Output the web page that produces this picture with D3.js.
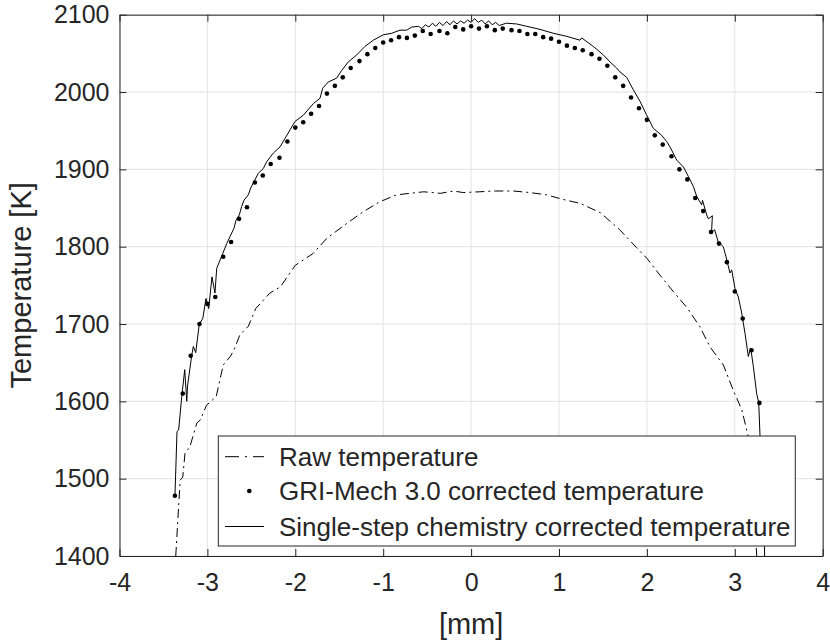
<!DOCTYPE html>
<html><head><meta charset="utf-8">
<script src="https://cdn.jsdelivr.net/npm/d3@7"></script>
<style>body{margin:0;background:#fff}svg{display:block}text{font-family:"Liberation Sans",Arial,sans-serif;fill:#262626}</style>
</head><body><svg id="c" width="830" height="643"></svg>
<script>
const xTicks = [-4,-3,-2,-1,0,1,2,3,4];
const yTicks = [1400,1500,1600,1700,1800,1900,2000,2100];
const legendLabels = ["Raw temperature","GRI-Mech 3.0 corrected temperature","Single-step chemistry corrected temperature"];

const rawX = [-3.36,-3.31,-3.28,-3.255,-3.20,-3.12,-3.08,-3.01,-2.90,-2.82,-2.74,-2.70,-2.63,-2.535,-2.45,-2.29,-2.17,-2.00,-1.80,-1.64,-1.415,-1.23,-1.04,-0.85,-0.54,-0.35,-0.20,-0.09,0.10,0.25,0.48,0.67,0.86,1.05,1.24,1.47,1.69,1.88,2.00,2.15,2.30,2.45,2.60,2.72,2.87,2.98,3.08,3.15,3.21,3.25];
const rawT = [1400,1498,1502,1533,1541,1572,1576,1595,1606,1647,1658,1666,1686,1697,1720,1740,1748,1776,1791,1811,1830,1845,1858,1867,1871,1869,1872,1870,1871,1872,1872,1870,1867,1861,1856,1844,1822,1799,1785,1763,1742,1722,1697,1670,1647,1615,1589,1556,1470,1400];

const griX = [-3.37,-3.28,-3.19,-3.09,-3.00,-2.91,-2.82,-2.73,-2.64,-2.55,-2.46,-2.37,-2.28,-2.18,-2.09,-2.00,-1.91,-1.82,-1.73,-1.64,-1.55,-1.46,-1.37,-1.27,-1.18,-1.09,-1.00,-0.91,-0.82,-0.73,-0.64,-0.55,-0.46,-0.36,-0.27,-0.18,-0.09,0,0.09,0.18,0.27,0.36,0.46,0.55,0.64,0.73,0.82,0.91,1.00,1.09,1.18,1.27,1.37,1.46,1.55,1.64,1.73,1.82,1.91,2.00,2.09,2.18,2.28,2.37,2.46,2.55,2.64,2.73,2.82,2.91,3.00,3.09,3.19,3.28,3.37];
const griT = [1478,1610,1659,1700,1726,1735,1787,1806,1836,1851,1883,1892,1907,1915,1936,1954,1961,1972,1982,1998,2008,2019,2031,2040,2049,2057,2064,2067,2071,2070,2073,2079,2075,2079,2076,2084,2081,2085,2082,2085,2080,2082,2080,2079,2075,2075,2071,2069,2065,2060,2057,2054,2049,2043,2034,2019,2008,1993,1979,1964,1944,1932,1917,1900,1887,1863,1846,1819,1804,1780,1742,1707,1666,1598,1440];

const solidX = [-3.369,-3.346,-3.327,-3.292,-3.258,-3.235,-3.226,-3.179,-3.160,-3.133,-3.092,-3.053,-3.016,-2.985,-2.948,-2.914,-2.894,-2.826,-2.780,-2.743,-2.697,-2.675,-2.637,-2.610,-2.584,-2.535,-2.507,-2.470,-2.421,-2.364,-2.325,-2.250,-2.174,-2.117,-2.060,-2.003,-1.909,-1.795,-1.719,-1.688,-1.625,-1.529,-1.472,-1.397,-1.301,-1.207,-1.113,-0.999,-0.903,-0.809,-0.733,-0.676,-0.60,
 -0.56,-0.52,-0.48,-0.44,-0.40,-0.36,-0.32,-0.28,-0.24,-0.20,-0.16,-0.12,-0.08,-0.04,0.00,0.04,0.08,0.12,0.16,0.20,0.24,0.28,0.32,
 0.40,0.519,0.633,0.784,0.935,1.088,1.239,1.258,1.390,1.504,1.580,1.656,1.694,1.770,1.845,1.922,1.998,2.073,2.168,2.225,2.263,2.339,2.416,2.471,2.528,2.567,2.623,2.633,2.680,2.70,2.745,2.735,2.77,2.812,2.869,2.900,2.945,2.965,3.002,3.040,3.079,3.116,3.154,3.181,3.211,3.249,3.272,3.287,3.32,3.34];
const solidT = [1478,1561,1563,1606,1641,1600,1620,1659,1671,1663,1700,1707,1733,1720,1761,1740,1772,1791,1804,1813,1824,1834,1841,1852,1860,1867,1876,1884,1895,1901,1910,1921,1929,1940,1951,1962,1970,1985,1992,2005,2013,2018,2028,2039,2048,2059,2067,2074,2076,2080,2080,2084,2085,
 2082,2087,2084,2089,2085,2090,2086,2091,2087,2092,2088,2092,2089,2093,2090,2095,2090,2093,2088,2092,2087,2090,2086,
 2089,2088,2085,2081,2076,2072,2067,2070,2059,2048,2039,2031,2026,2019,2003,1988,1970,1953,1944,1936,1929,1912,1903,1891,1878,1865,1854,1860,1841,1836,1840,1818,1822,1806,1800,1787,1766,1770,1746,1735,1714,1688,1658,1669,1645,1610,1598,1555,1480,1400];

const W=830,H=643;
const m={l:119.5,r:822.7,t:14.7,b:556};
const x=d3.scaleLinear().domain([-4,4]).range([m.l,m.r]);
const y=d3.scaleLinear().domain([1400,2100]).range([m.b,m.t]);
const svg=d3.select("#c");
const axC="#262626";

// grid
svg.append("g").selectAll("line").data(xTicks).join("line")
 .attr("x1",d=>x(d)).attr("x2",d=>x(d)).attr("y1",m.t).attr("y2",m.b)
 .attr("stroke","#e3e3e3").attr("stroke-width",1);
svg.append("g").selectAll("line").data(yTicks).join("line")
 .attr("y1",d=>y(d)).attr("y2",d=>y(d)).attr("x1",m.l).attr("x2",m.r)
 .attr("stroke","#e3e3e3").attr("stroke-width",1);

svg.append("clipPath").attr("id","clip").append("rect")
 .attr("x",m.l).attr("y",m.t).attr("width",m.r-m.l).attr("height",m.b-m.t);
const plot=svg.append("g").attr("clip-path","url(#clip)");

const line=d3.line().x(d=>x(d[0])).y(d=>y(d[1]));
plot.append("path").datum(rawX.map((v,i)=>[v,rawT[i]])).attr("d",line)
 .attr("fill","none").attr("stroke","#000").attr("stroke-width",1).attr("stroke-dasharray","9,4,2,4");
plot.append("path").datum(solidX.map((v,i)=>[v,solidT[i]])).attr("d",line)
 .attr("fill","none").attr("stroke","#000").attr("stroke-width",1);
plot.append("g").selectAll("circle").data(griX.map((v,i)=>[v,griT[i]])).join("circle")
 .attr("cx",d=>x(d[0])).attr("cy",d=>y(d[1])).attr("r",2.3).attr("fill","#000");

// axes box and ticks (inside, all sides)
const fmt=d=>String(d);
const axG=svg.append("g");
const xAxB=d3.axisBottom(x).tickValues(xTicks).tickSizeInner(-7).tickSizeOuter(0).tickPadding(17).tickFormat(fmt);
const xAxT=d3.axisTop(x).tickValues(xTicks).tickSizeInner(-7).tickSizeOuter(0).tickFormat("");
const yAxL=d3.axisLeft(y).tickValues(yTicks).tickSizeInner(-7).tickSizeOuter(0).tickPadding(10).tickFormat(fmt);
const yAxR=d3.axisRight(y).tickValues(yTicks).tickSizeInner(-7).tickSizeOuter(0).tickFormat("");
function style(g){g.select(".domain").attr("stroke",axC);g.selectAll(".tick line").attr("stroke",axC);
 g.selectAll(".tick text").attr("fill",axC).style("font-size","25px").style("font-family","'Liberation Sans',Arial,sans-serif");}
axG.append("g").attr("transform",`translate(0,${m.b})`).call(xAxB).call(style);
axG.append("g").attr("transform",`translate(0,${m.t})`).call(xAxT).call(style);
axG.append("g").attr("transform",`translate(${m.l},0)`).call(yAxL).call(style);
axG.append("g").attr("transform",`translate(${m.r},0)`).call(yAxR).call(style);

// labels
svg.append("text").attr("x",(m.l+m.r)/2).attr("y",634).attr("text-anchor","middle").style("font-size","29px").text("[mm]");
svg.append("text").attr("transform",`translate(31,${(m.t+m.b)/2}) rotate(-90)`).attr("text-anchor","middle").style("font-size","29px").text("Temperature [K]");

// legend
const lg=svg.append("g");
lg.append("rect").attr("x",218.3).attr("y",436).attr("width",795.3-218.3).attr("height",110)
 .attr("fill","#fff").attr("stroke",axC).attr("stroke-width",1);
const rows=[456.7,491,526.5];
lg.append("line").attr("x1",225).attr("x2",264).attr("y1",rows[0]).attr("y2",rows[0]).attr("stroke","#000").attr("stroke-dasharray","14,6,2,6");
lg.append("circle").attr("cx",249.3).attr("cy",rows[1]).attr("r",2.3).attr("fill","#000");
lg.append("line").attr("x1",225).attr("x2",264).attr("y1",rows[2]).attr("y2",rows[2]).attr("stroke","#000");
lg.selectAll("text.lt").data(legendLabels).join("text").attr("class","lt")
 .attr("x",279).attr("y",(d,i)=>rows[i]).attr("dy","0.35em").style("font-size","26px").attr("fill","#000").text(d=>d);
</script></body></html>
